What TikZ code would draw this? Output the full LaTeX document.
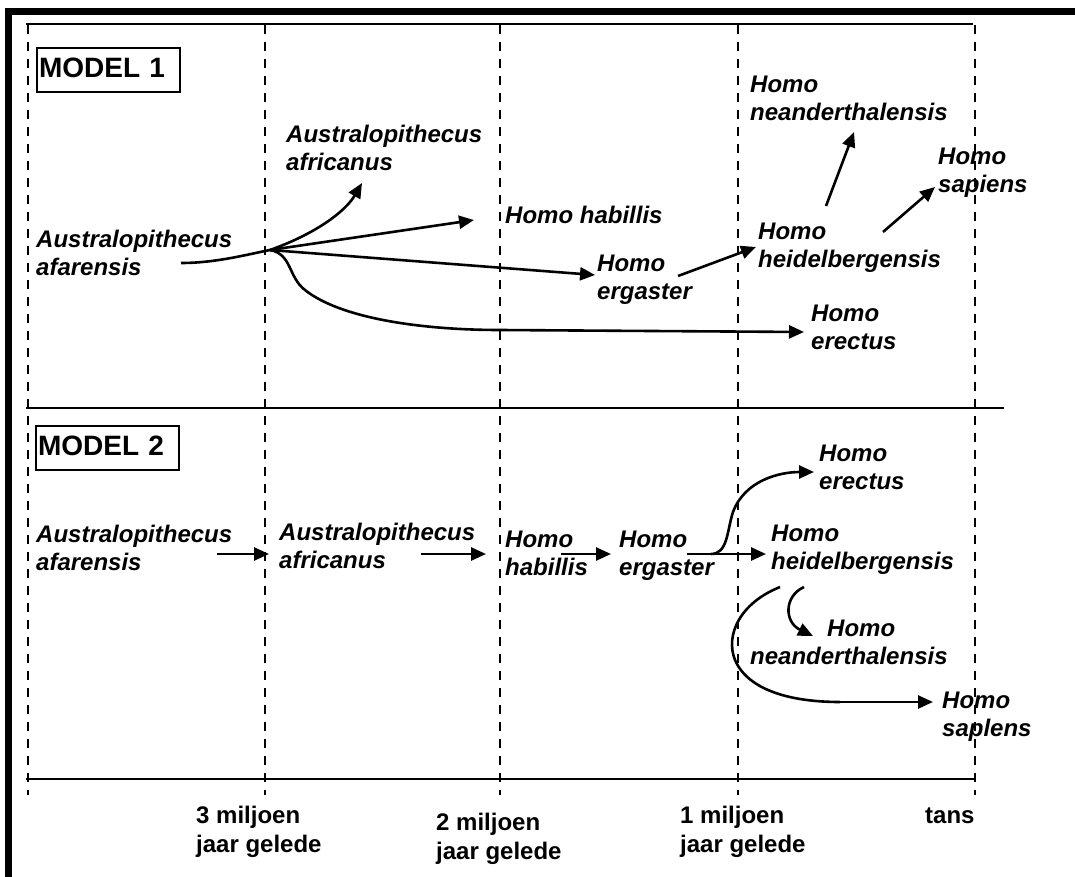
\documentclass[tikz,border=0pt]{standalone}
\usepackage{fontspec}
\setmainfont{Liberation Sans}
\usetikzlibrary{arrows.meta}
\begin{document}
\begin{tikzpicture}[x=1pt,y=-1pt,
 sp/.style={font=\fontsize{24}{28}\selectfont\bfseries\itshape, align=left, inner sep=0pt, anchor=north west},
 tl/.style={font=\fontsize{24}{29}\selectfont\bfseries, align=left, inner sep=0pt, anchor=north west},
 mdl/.style={draw, line width=2pt, font=\fontsize{28}{32}\selectfont\bfseries, anchor=north west, inner xsep=2pt, inner ysep=0pt, text width=139pt, minimum height=44pt, text depth=4pt},
 grid/.style={line width=2.2pt, dash pattern=on 9pt off 8pt},
 axis/.style={line width=2pt},
 frame/.style={line width=7pt},
 con/.style={line width=2.6pt},
 arr/.style={con, -{Triangle[length=15pt,width=13pt]}}]
\useasboundingbox (0,0) rectangle (1075,877);
% outer frame
\draw[frame] (8.5,877) -- (8.5,11.5) -- (1075,11.5);
% horizontal lines
\draw[axis] (26,24) -- (973,24);
\draw[axis] (26,408) -- (1004,408);
\draw[axis] (26,779) -- (975,779);
% dashed time lines
\foreach \x in {28,265,500,738,975} \draw[grid] (\x,25) -- (\x,795);
% model boxes
\node[mdl] (m1) at (36,47) {MODEL 1};
\node[mdl] (m2) at (35,425) {MODEL 2};
% Model 1 labels
\node[sp] (afar1) at (36,229.5) {Australopithecus\\afarensis};
\node[sp] (afric1) at (286,124.5) {Australopithecus\\africanus};
\node[sp] (hab1) at (505,205.5) {Homo habillis};
\node[sp] (erg1) at (597,254.5) {Homo\\ergaster};
\node[sp] (heid1) at (758,222.5) {Homo\\heidelbergensis};
\node[sp] (nean1) at (750,75.5) {Homo\\neanderthalensis};
\node[sp] (sap1) at (938,147.5) {Homo\\sapiens};
\node[sp] (ere1) at (811,304.5) {Homo\\erectus};
% Model 1 connectors
\coordinate (br) at (270,250);
\coordinate (s0) at (181,263);
\coordinate (e1) at (362,183);
\coordinate (e2) at (474,220);
\coordinate (e3) at (595,275);
\coordinate (e4) at (804,332);
\coordinate (s5) at (678,276);
\coordinate (e5) at (756,247);
\coordinate (s6) at (826,206);
\coordinate (e6) at (854,132);
\coordinate (s7) at (883,232);
\coordinate (e7) at (935,187);
\draw[con] (s0) .. controls (215,263) and (245,255) .. (br);
\draw[arr] (br) .. controls (315,234) and (345,212) .. (e1);
\draw[arr] (br) -- (e2);
\draw[arr] (br) -- (e3);
\draw[con] (br) .. controls (292,254) and (288,277) .. (305,290) .. controls (340,318) and (420,330) .. (500,330);
\draw[arr] (500,330) -- (e4);
\draw[arr] (s5) -- (e5);
\draw[arr] (s6) -- (e6);
\draw[arr] (s7) -- (e7);
% Model 2 labels
\node[sp] (afar2) at (36,524.5) {Australopithecus\\afarensis};
\node[sp] (afric2) at (279,522.5) {Australopithecus\\africanus};
\node[sp] (hab2) at (505,530.5) {Homo\\habillis};
\node[sp] (erg2) at (619,530.5) {Homo\\ergaster};
\node[sp] (ere2) at (819,444.5) {Homo\\erectus};
\node[sp] (heid2) at (771,524.5) {Homo\\heidelbergensis};
\node[sp] (nean2) at (750,619.5) {\hspace*{77pt}Homo\\neanderthalensis};
\node[sp] (sap2) at (942,691.5) {Homo\\saplens};
% Model 2 connectors
\coordinate (a1) at (217,554);
\coordinate (b1) at (269,554);
\coordinate (a2) at (421,554);
\coordinate (b2) at (486,554);
\coordinate (a3) at (561,554);
\coordinate (b3) at (611,554);
\coordinate (a4) at (687,554);
\coordinate (b4) at (766,554);
\coordinate (a5) at (711,554);
\coordinate (b5) at (814,472);
\coordinate (a6) at (804,587);
\coordinate (b6) at (813,636);
\coordinate (a7) at (780,587);
\coordinate (b7) at (933,702);
\draw[arr] (a1) -- (b1);
\draw[arr] (a2) -- (b2);
\draw[arr] (a3) -- (b3);
\draw[arr] (a4) -- (b4);
\draw[arr] (a5) .. controls (728,554) and (727,530) .. (733,512) .. controls (745,480) and (780,472) .. (b5);
\draw[arr] (a6) .. controls (784,596) and (784,622) .. (b6);
\draw[con] (a7) .. controls (740,603) and (725,635) .. (735,660) .. controls (748,690) and (790,702) .. (840,702);
\draw[arr] (840,702) -- (b7);
% time labels
\node[tl] (t3) at (196,805.5) {3 miljoen\\jaar gelede};
\node[tl] (t2) at (436,812.5) {2 miljoen\\jaar gelede};
\node[tl] (t1) at (680,805.5) {1 miljoen\\jaar gelede};
\node[tl] (t0) at (925,807.5) {tans};
\end{tikzpicture}
\end{document}
